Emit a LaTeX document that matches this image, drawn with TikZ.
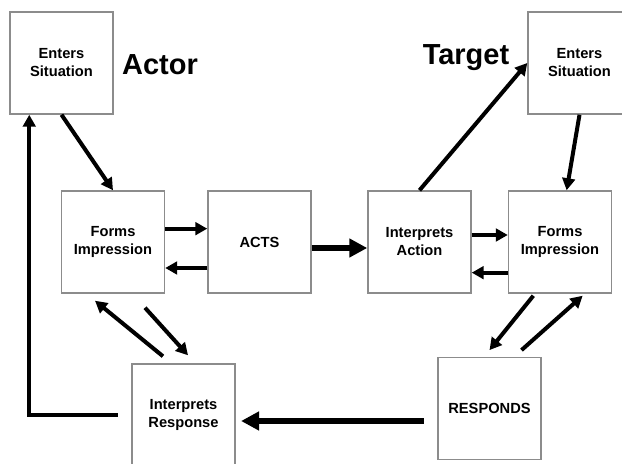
\documentclass[tikz,border=0pt]{standalone}
\usepackage{fontspec}
\setmainfont{Liberation Sans}
\usetikzlibrary{arrows.meta, positioning}

\begin{document}
\begin{tikzpicture}[
  x=0.75pt, y=-0.75pt,
  every node/.style={font=\fontsize{11}{13.5}\selectfont\bfseries},
  box/.style={rectangle, draw=black!45, line width=1.1pt, minimum width=77.25pt, minimum height=76.5pt, align=center, inner sep=0pt},
  role/.style={font=\fontsize{21.75}{24}\selectfont\bfseries},
  arr/.style={-{Triangle[length=9pt, width=9.5pt]}, line width=3pt},
  arrthick/.style={-{Triangle[length=13.5pt, width=13.5pt]}, line width=4.5pt},
]
\useasboundingbox (0,0) rectangle (622,464);

% Actor side
\node[box] (enterA) at (61.5,63) {Enters\\Situation};
\node[role] (actor) at (160,65) {Actor};
\node[box] (formA) at (113,242) {Forms\\Impression};
\node[box] (acts) at (259.5,242) {ACTS};
\node[box] (interpR) at (183.5,415) {Interprets\\Response};

% Target side
\node[box] (interpA) at (419.5,242) {Interprets\\Action};
\node[box] (enterT) at (579.5,63) {Enters\\Situation};
\node[role] (target) at (466,58) {Target};
\node[box] (formT) at (560,242) {Forms\\Impression};
\node[box] (resp) at (489.5,408.5) {RESPONDS};

% Arrows - actor
\draw[arr] (enterA.south) -- (formA.north);
\draw[arr] ([yshift=10pt]formA.east) -- ([yshift=10pt]acts.west);
\draw[arr] ([yshift=-19.5pt]acts.west) -- ([yshift=-19.5pt]formA.east);
\draw[arr] ([xshift=24pt, yshift=-10.5pt]formA.south) -- ([xshift=3.4pt, yshift=6pt]interpR.north);
\draw[arr] ([xshift=-15.4pt, yshift=5.25pt]interpR.north) -- ([xshift=-13.5pt, yshift=-5.25pt]formA.south);
\draw[arr] ([xshift=-10pt]interpR.west) -| ([xshift=15pt]enterA.south west);

% Arrows - target
\draw[arrthick] ([yshift=-4.5pt]acts.east) -- ([yshift=-4.5pt]interpA.west);
\draw[arr] (interpA.north) -- (enterT.west);
\draw[arr] (enterT.south) -- ([xshift=5pt]formT.north);
\draw[arr] ([yshift=5.25pt]interpA.east) -- ([yshift=5.25pt]formT.west);
\draw[arr] ([yshift=-23pt]formT.west) -- ([yshift=-23pt]interpA.east);
\draw[arr] ([xshift=-20pt, yshift=-1.5pt]formT.south) -- ([yshift=5pt]resp.north);
\draw[arr] ([xshift=24pt, yshift=5pt]resp.north) -- ([xshift=17pt, yshift=-1.5pt]formT.south);
\draw[arrthick] ([xshift=-10pt, yshift=-9.375pt]resp.west) -- ([xshift=4pt, yshift=-4.5pt]interpR.east);
\end{tikzpicture}
\end{document}
